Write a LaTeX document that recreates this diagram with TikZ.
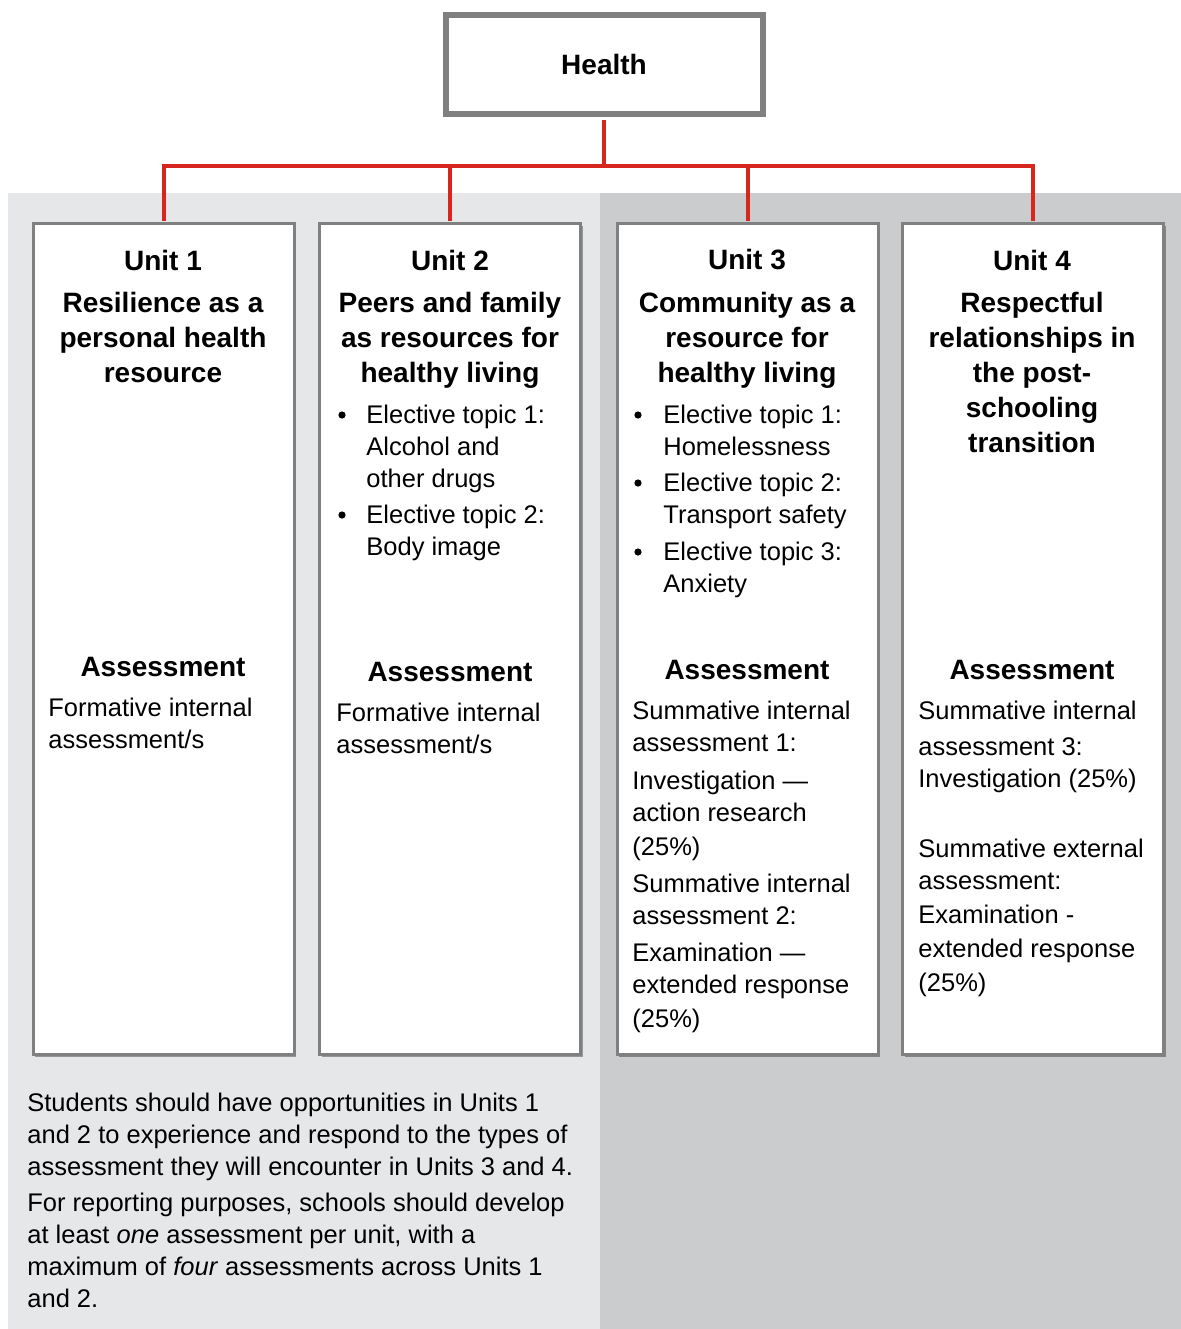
\documentclass[tikz,border=0pt]{standalone}
\usepackage{fontspec}
\setmainfont{Liberation Sans}
\usetikzlibrary{shadows}

\definecolor{linkred}{RGB}{215,38,30}
\definecolor{boxgray}{RGB}{128,128,128}
\definecolor{paleback}{RGB}{230,231,232}
\definecolor{darkback}{RGB}{203,204,206}

\tikzset{
  unitbox/.style={draw=boxgray, line width=1.5pt, fill=white, inner sep=0pt,
    minimum width=130.5pt, minimum height=415.5pt,
    drop shadow={shadow xshift=1pt, shadow yshift=-1.2pt, fill=black, opacity=0.35}},
  topbox/.style={draw=boxgray, line width=3pt, fill=white, inner sep=0pt,
    minimum width=158.5pt, minimum height=49.5pt},
  title/.style={font=\bfseries\fontsize{14}{17.5}\selectfont, align=center, inner sep=0pt},
  body/.style={font=\fontsize{12.75}{16}\selectfont, align=left, inner sep=0pt, anchor=north west},
  dot/.style={circle, fill=black, inner sep=0pt, minimum size=3.6pt},
  link/.style={draw=linkred, line width=2pt}
}

\begin{document}
\begin{tikzpicture}[x=0.5pt,y=-0.5pt]

\useasboundingbox (0,0) rectangle (1181,1329);
\fill [paleback] (8,193) rectangle (600,1329);
\fill [darkback] (600,193) rectangle (1181,1329);

\node [topbox] (health) at (604,64.5) {\bfseries\fontsize{14}{17}\selectfont Health};
\coordinate (bus) at (604,166);

\node [unitbox] (u1) at (163.5,639) {};
\node [unitbox] (u2) at (450,639) {};
\node [unitbox] (u3) at (747.5,639) {};
\node [unitbox] (u4) at (1033,639) {};

\draw [link, shorten <=1.5pt] (health.south) -- (health.south |- bus);
\foreach \u in {u1,u2,u3,u4}
  \draw [link, shorten >=0.75pt] (health.south |- bus) -| (\u.north);

% Unit 1
\node [title] (u1head) at (163,260) {Unit 1};
\node [title, anchor=north] (u1name) at (163,292) {Resilience as a\\personal health\\resource};
\node [title] (u1ass) at (163,667) {Assessment};
\node [body] (u1text) at (48,698) {Formative internal\\assessment/s};

% Unit 2
\node [title] (u2head) at (450,260) {Unit 2};
\node [title, anchor=north] (u2name) at (450,292) {Peers and family\\as resources for\\healthy living};
\node [dot] (u2b1) at (342,415) {};
\node [body] (u2e1) at (366,405) {Elective topic 1:\\Alcohol and\\other drugs};
\node [dot] (u2b2) at (342,515) {};
\node [body] (u2e2) at (366,505) {Elective topic 2:\\Body image};
\node [title] (u2ass) at (450,672) {Assessment};
\node [body] (u2text) at (336,703) {Formative internal\\assessment/s};

% Unit 3
\node [title] (u3head) at (747,260) {Unit 3};
\node [title, anchor=north] (u3name) at (747,292) {Community as a\\resource for\\healthy living};
\node [dot] (u3b1) at (638,415) {};
\node [body] (u3e1) at (663,405) {Elective topic 1:\\Homelessness};
\node [dot] (u3b2) at (638,483) {};
\node [body] (u3e2) at (663,473) {Elective topic 2:\\Transport safety};
\node [dot] (u3b3) at (638,552) {};
\node [body] (u3e3) at (663,542) {Elective topic 3:\\Anxiety};
\node [title] (u3ass) at (747,670) {Assessment};
\node [body] (u3text) at (632,701) {Summative internal\\assessment 1:\\[3pt]Investigation —\\action research\\[1pt](25\%)\\[2.5pt]Summative internal\\assessment 2:\\[2.5pt]Examination —\\extended response\\[1pt](25\%)};

% Unit 4
\node [title] (u4head) at (1032,260) {Unit 4};
\node [title, anchor=north] (u4name) at (1032,292) {Respectful\\relationships in\\the post-\\schooling\\transition};
\node [title] (u4ass) at (1032,670) {Assessment};
\node [body] (u4text) at (918,701) {Summative internal\\[2pt]assessment 3:\\Investigation (25\%)\\[19pt]Summative external\\assessment:\\[1pt]Examination -\\[1pt]extended response\\[1pt](25\%)};

% note under units 1 and 2
\node [body] (note) at (27,1093) {Students should have opportunities in Units 1\\and 2 to experience and respond to the types of\\assessment they will encounter in Units 3 and 4.\\[2pt]For reporting purposes, schools should develop\\at least \emph{one} assessment per unit, with a\\maximum of \emph{four} assessments across Units 1\\and 2.};

\end{tikzpicture}
\end{document}
